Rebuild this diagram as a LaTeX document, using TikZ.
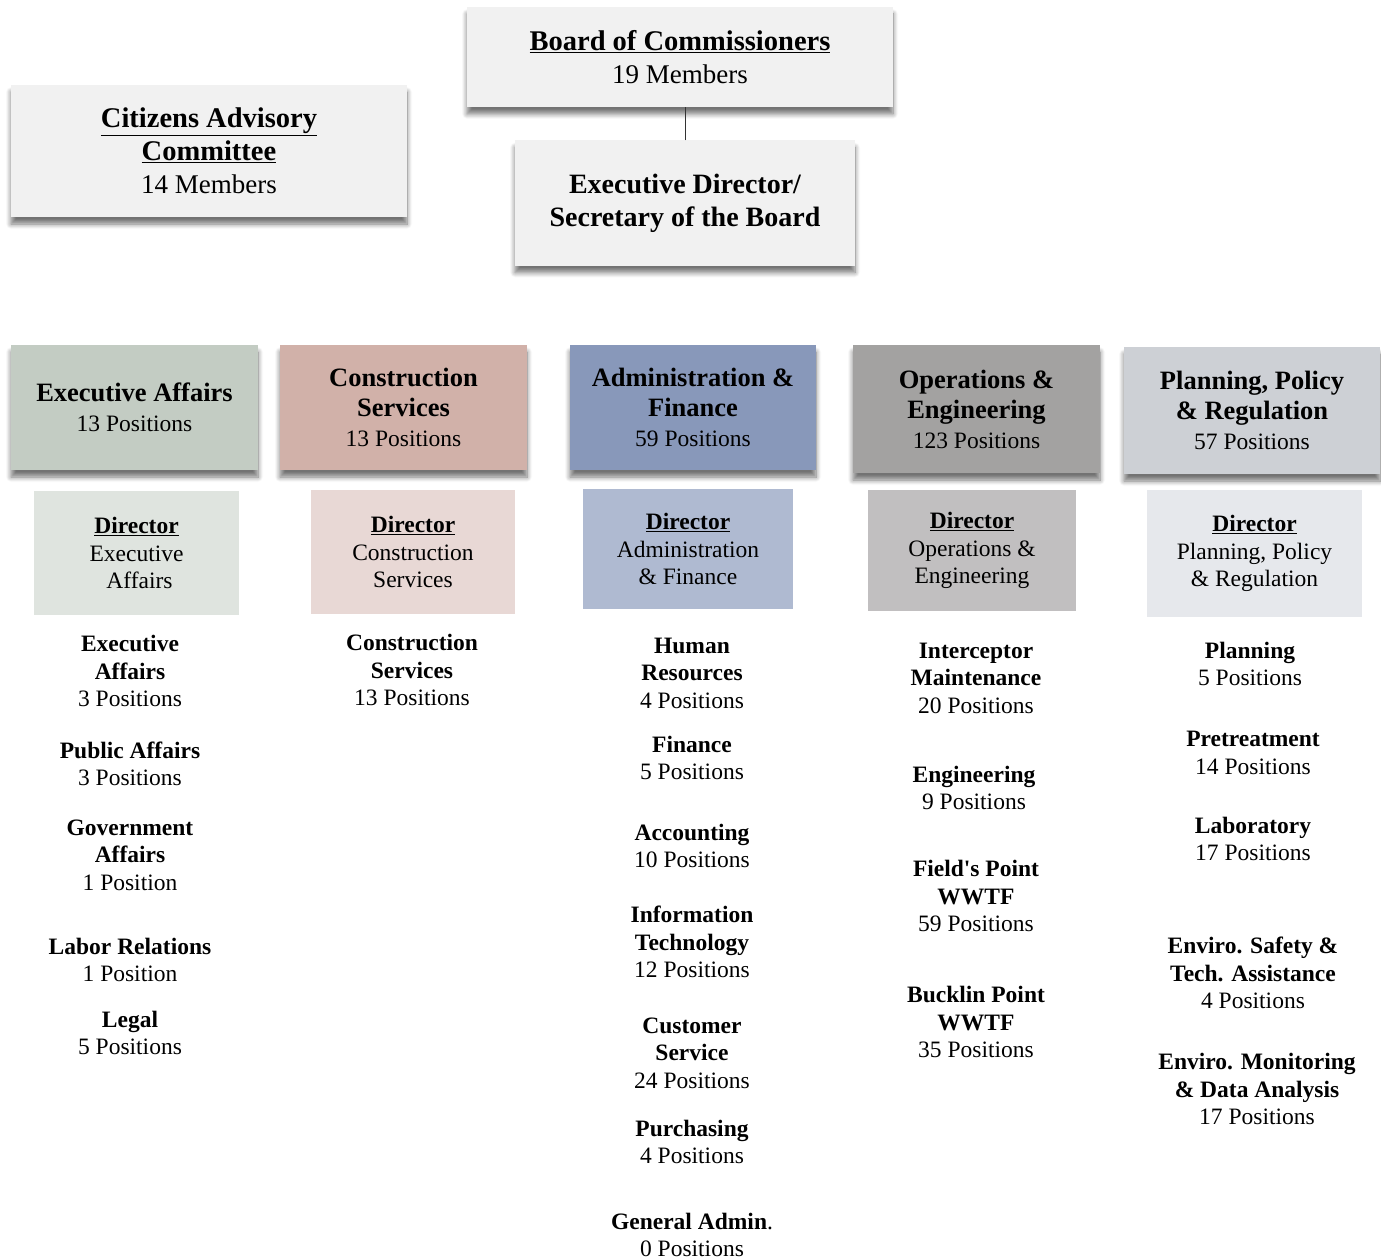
\documentclass[tikz,border=0pt]{standalone}
\usepackage{fontspec}
\setmainfont{Liberation Serif}
\usetikzlibrary{positioning, shadows.blur}
\definecolor{topgray}{HTML}{F1F1F1}
\definecolor{eahead}{HTML}{C3CCC3}
\definecolor{cshead}{HTML}{D1B1A9}
\definecolor{afhead}{HTML}{8898BA}
\definecolor{oehead}{HTML}{A3A2A1}
\definecolor{pprhead}{HTML}{CDD0D5}
\definecolor{eadir}{HTML}{DFE4DF}
\definecolor{csdir}{HTML}{E8D8D5}
\definecolor{afdir}{HTML}{AFBAD1}
\definecolor{oedir}{HTML}{C1BFC0}
\definecolor{pprdir}{HTML}{E6E8EC}
\tikzset{
    every node/.style={ % all texts centred, no padding
        align=center,
        inner sep=0pt
    },
    boxshadow/.style={ % soft grey band under a box
        blur shadow={shadow xshift=0pt, shadow yshift=-7pt, shadow blur radius=5pt,
                     shadow blur steps=8, shadow opacity=55}
    },
    topbox/.style={
        fill=topgray,
        boxshadow,
        font=\fontsize{27}{33}\selectfont
    },
    headbox/.style={
        boxshadow,
        minimum width=247pt,
        minimum height=125pt,
        font=\fontsize{23.5}{30}\selectfont
    },
    dirbox/.style={
        font=\fontsize{23.5}{27.5}\selectfont
    },
    unit/.style={
        font=\fontsize{23.5}{27.5}\selectfont
    },
}
\newcommand{\topname}[1]{{\fontsize{28.5}{33}\selectfont\bfseries\underline{#1}}}
\newcommand{\headname}[1]{{\fontsize{26.5}{30}\selectfont\bfseries #1}}
\newcommand{\dirname}{\textbf{\underline{Director}}}

\begin{document}
\begin{tikzpicture}[x=1pt, y=-1pt]
    \useasboundingbox (0,0) rectangle (1381,1260);

    % governing bodies
    \node[topbox, minimum width=426pt, minimum height=100pt] (board) at (680,57)
        {\topname{Board of Commissioners}\\19 Members};
    \node[topbox, minimum width=396pt, minimum height=132pt] (cac) at (209,151)
        {\topname{Citizens Advisory}\\\topname{Committee}\\14 Members};
    \node[topbox, minimum width=340pt, minimum height=125pt] (exdir) at (685,203)
        {{\fontsize{28}{33}\selectfont\bfseries Executive Director/}\\
         {\fontsize{28}{33}\selectfont\bfseries Secretary of the Board}};
    \draw[black!80, thick] (exdir.north) -- (exdir.north |- board.south);

    % divisions
    \node[headbox, fill=eahead]  (ea)  at (134.5,407.5) {\headname{Executive Affairs}\\13 Positions};
    \node[headbox, fill=cshead]  (cs)  at (403.5,407.5) {\headname{Construction}\\\headname{Services}\\13 Positions};
    \node[headbox, fill=afhead, minimum width=246pt] (af) at (693,407.5) {\headname{Administration \&}\\\headname{Finance}\\59 Positions};
    \node[headbox, fill=oehead, minimum height=128pt] (oe) at (976.5,409) {\headname{Operations \&}\\\headname{Engineering}\\123 Positions};
    \node[headbox, fill=pprhead, minimum width=256pt, minimum height=127pt] (ppr) at (1252,410.5) {\headname{Planning, Policy}\\\headname{\& Regulation}\\57 Positions};

    % directors
    \node[dirbox, fill=eadir, minimum width=205pt, minimum height=124pt]  (eadir)  at (136.5,553) {\dirname\\Executive\\\hspace*{6pt}Affairs};
    \node[dirbox, fill=csdir, minimum width=204pt, minimum height=124pt]  (csdir)  at (413,552) {\dirname\\Construction\\Services};
    \node[dirbox, fill=afdir, minimum width=210pt, minimum height=120pt]  (afdir)  at (688,549) {\dirname\\Administration\\\& Finance};
    \node[dirbox, fill=oedir, minimum width=208pt, minimum height=121pt]  (oedir)  at (972,550.5) {\dirname\\Operations \&\\Engineering};
    \node[dirbox, fill=pprdir, minimum width=215pt, minimum height=127pt] (pprdir) at (1254.5,553.5) {\dirname\\Planning, Policy\\\& Regulation};

    % sections: executive affairs
    \node[unit] (ea1) at (130,671)  {\textbf{Executive}\\\textbf{Affairs}\\3 Positions};
    \node[unit] (ea2) at (130,764)  {\textbf{Public Affairs}\\3 Positions};
    \node[unit] (ea3) at (130,855)  {\textbf{Government}\\\textbf{Affairs}\\1 Position};
    \node[unit] (ea4) at (130,960)  {\textbf{Labor Relations}\\1 Position};
    \node[unit] (ea5) at (130,1033) {\textbf{Legal}\\5 Positions};

    % sections: construction services
    \node[unit] (cs1) at (412,670) {\textbf{Construction}\\\textbf{Services}\\13 Positions};

    % sections: administration & finance
    \node[unit] (af1) at (692,673)  {\textbf{Human}\\\textbf{Resources}\\4 Positions};
    \node[unit] (af2) at (692,758)  {\textbf{Finance}\\5 Positions};
    \node[unit] (af3) at (692,846)  {\textbf{Accounting}\\10 Positions};
    \node[unit] (af4) at (692,942)  {\textbf{Information}\\\textbf{Technology}\\12 Positions};
    \node[unit] (af5) at (692,1053) {\textbf{Customer}\\\textbf{Service}\\24 Positions};
    \node[unit] (af6) at (692,1142) {\textbf{Purchasing}\\4 Positions};
    \node[unit] (af7) at (692,1235) {\textbf{General Admin}.\\0 Positions};

    % sections: operations & engineering
    \node[unit] (oe1) at (976,678)  {\textbf{Interceptor}\\\textbf{Maintenance}\\20 Positions};
    \node[unit] (oe2) at (974,788)  {\textbf{Engineering}\\9 Positions};
    \node[unit] (oe3) at (976,896)  {\textbf{Field\textquotesingle s Point}\\\textbf{WWTF}\\59 Positions};
    \node[unit] (oe4) at (976,1022) {\textbf{Bucklin Point}\\\textbf{WWTF}\\35 Positions};

    % sections: planning, policy & regulation
    \node[unit] (ppr1) at (1250,664)  {\textbf{Planning}\\5 Positions};
    \node[unit] (ppr2) at (1253,753)  {\textbf{Pretreatment}\\14 Positions};
    \node[unit] (ppr3) at (1253,839)  {\textbf{Laboratory}\\17 Positions};
    \node[unit] (ppr4) at (1253,973)  {\textbf{Enviro. Safety \&}\\\textbf{Tech. Assistance}\\4 Positions};
    \node[unit] (ppr5) at (1257,1089) {\textbf{Enviro. Monitoring}\\\textbf{\& Data Analysis}\\17 Positions};
\end{tikzpicture}
\end{document}
